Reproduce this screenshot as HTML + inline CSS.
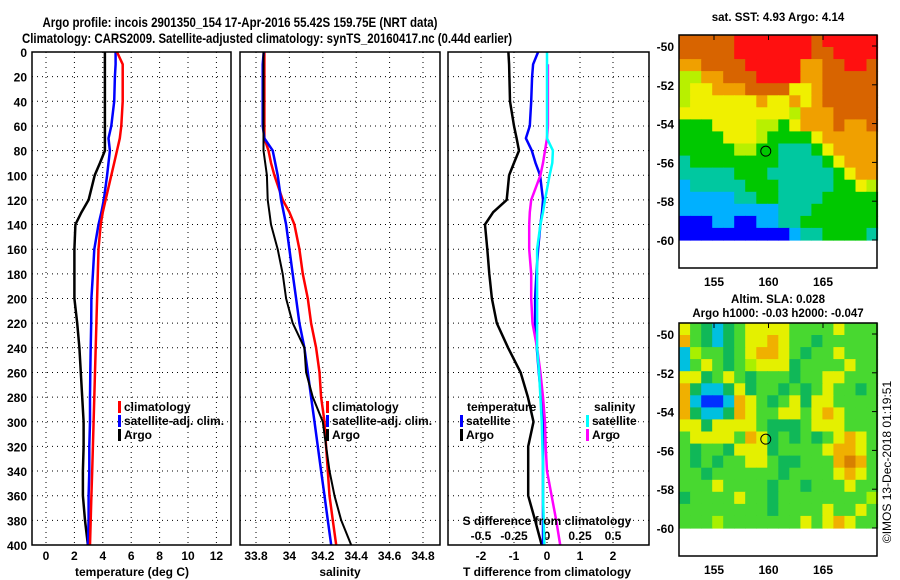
<!DOCTYPE html>
<html><head><meta charset="utf-8"><style>
body{margin:0;background:#fff}
svg{display:block;font-family:"Liberation Sans",sans-serif;font-weight:bold}
</style></head><body>
<svg id="c" width="900" height="580" viewBox="0 0 900 580" xmlns="http://www.w3.org/2000/svg">
<text x="240" y="27" font-size="14" text-anchor="middle" textLength="395" lengthAdjust="spacingAndGlyphs">Argo profile: incois 2901350_154 17-Apr-2016 55.42S 159.75E (NRT data)</text>
<text x="267" y="43" font-size="14" text-anchor="middle" textLength="490" lengthAdjust="spacingAndGlyphs">Climatology: CARS2009. Satellite-adjusted climatology: synTS_20160417.nc (0.44d earlier)</text>
<g id="g"></g>
<text transform="translate(891,462) rotate(-90)" font-size="12" font-weight="normal" text-anchor="middle">©IMOS 13-Dec-2018 01:19:51</text>
</svg>
<script>
// depths for all profiles
const depths=[0,10,20,40,60,70,80,90,100,120,130,140,160,180,200,220,240,260,280,300,320,340,360,380,400];
const tClim=[5.0,5.4,5.4,5.4,5.3,5.2,5.0,4.8,4.6,4.2,4.0,3.85,3.7,3.65,3.6,3.55,3.5,3.45,3.4,3.35,3.3,3.25,3.2,3.15,3.1];
const tSat=[4.9,4.9,4.85,4.8,4.6,4.4,4.5,4.4,4.3,4.07,3.9,3.7,3.4,3.3,3.2,3.18,3.15,3.12,3.1,3.1,3.05,3.05,3.0,3.0,2.95];
const tArgo=[4.15,4.15,4.15,4.15,4.15,4.15,4.15,3.8,3.43,3.0,2.5,2.07,2.0,2.0,2.0,2.2,2.35,2.45,2.55,2.65,2.65,2.6,2.6,2.75,2.95];
const sClim=[33.85,33.85,33.85,33.85,33.85,33.85,33.875,33.89,33.91,33.96,34.0,34.03,34.06,34.08,34.11,34.13,34.16,34.18,34.19,34.21,34.22,34.23,34.24,34.26,34.28];
const sSat=[33.846,33.84,33.84,33.84,33.84,33.85,33.9,33.915,33.93,33.95,33.965,33.98,34.0,34.02,34.04,34.06,34.09,34.11,34.13,34.15,34.17,34.19,34.21,34.23,34.25];
const sArgo=[33.845,33.845,33.845,33.845,33.845,33.845,33.845,33.855,33.865,33.87,33.88,33.89,33.93,33.96,33.98,34.02,34.09,34.1,34.14,34.2,34.22,34.24,34.27,34.31,34.37];
const dtSat=[-0.27,-0.42,-0.45,-0.48,-0.52,-0.64,-0.46,-0.35,-0.21,-0.12,-0.15,-0.2,-0.27,-0.32,-0.36,-0.36,-0.31,-0.25,-0.18,-0.12,-0.12,-0.12,-0.12,-0.12,-0.12];
const dtArgo=[-1.17,-1.15,-1.14,-1.12,-1.0,-0.92,-0.85,-1.0,-1.15,-1.22,-1.63,-1.88,-1.81,-1.75,-1.67,-1.52,-1.18,-0.8,-0.58,-0.41,-0.57,-0.57,-0.57,-0.36,-0.16];
const dsSat=[0.0,0.0,0.0,0.0,0.0,0.0,0.045,0.04,0.02,-0.015,-0.03,-0.05,-0.075,-0.075,-0.075,-0.075,-0.075,-0.06,-0.05,-0.04,-0.035,-0.03,-0.03,-0.025,-0.02];
const dsArgo=[null,0.007,0.007,0.007,0.007,0.0,-0.015,-0.03,-0.05,-0.12,-0.13,-0.135,-0.135,-0.12,-0.12,-0.11,-0.075,-0.05,-0.03,-0.015,-0.01,0.0,0.035,0.07,0.10];
const depthTicks=[0,20,40,60,80,100,120,140,160,180,200,220,240,260,280,300,320,340,360,380,400];
const tTicks=[0,2,4,6,8,10,12];
const sTicks=[33.8,34,34.2,34.4,34.6,34.8];
const sTickLabels=["33.8","34","34.2","34.4","34.6","34.8"];
const dtTicks=[-2,-1,0,1,2];
const dsTicks=[-0.5,-0.25,0,0.25,0.5];
const dsTickLabels=["-0.5","-0.25","0","0.25","0.5"];
const latTicks=[-50,-52,-54,-56,-58,-60];
const lonTicks=[155,160,165];
// map grids (coded colour classes)
const sstGrid=["OOOOORRRRRRRORRRRR","OOOOORRRRRRROORRRR","ooOOOORRRRRooOORRO","yyooOOORRRRooOOOOO","yYYoooOOOOYYoOOOOO","yYYYYYYoYYoYoOOOOO","YYYYYYYYYYyoooOOOO","GGGYYYYyyGYoooOooO","GGGGYYYyGGGGYooooo","GGGGGyyGGTTTGYoooo","TGGGGGGGGTTTTGYooo","TTTTTGGGTTTTTTGYoo","CTTTTTGGGTTTTTGGYy","CCCCCTTGGTTTTGGGGG","CCCCCCCCCTTTGGGGGG","BBBCCBBCCTTGGGGGGG","BBBBBBBBBBCTTGGGGT"];
const slaGrid=["YGgCgGYYYYGGGGYGGG","oGgCgGYYoYGGgGGGGG","CyGGgGYooYGgGGYGGG","CGYGgGyYYYgGGGGYGG","YYgGYGgGGGgGGYYGGG","ogCCgYgGGgGgGYGGgG","oCBBCoYGgGYgYYGGGG","ogCCgoYGGYYGYoYGGG","YYgYYYYGgggGYYYGGG","GYYYYGoYgGgGgGYoYG","GgGGgYYYgGGGGYooYG","GgGgGGYYGggGGGoOoG","GGgGGGGGGgGGGGYoYG","GGGYGGGGgGGgGGGYGG","gGGGGYGGgGGGGGGGGy","GGGGGGGGgGGGGYGGYG","GGGyGGGGGGGYGYoYGG"];
const sstColors={R:"#ff1010",O:"#d86400",o:"#f0a000",Y:"#f0f000",y:"#b8f000",G:"#00c800",T:"#00c8a0",C:"#00b0ff",B:"#0000ff"};
const slaColors={G:"#48d830",g:"#10b858",Y:"#e4f000",y:"#a8f000",o:"#f0b000",O:"#d88000",C:"#00c0e0",B:"#0030ff"};
const argoLon=159.75, argoLat=-55.42;

const NS="http://www.w3.org/2000/svg";
const G=document.getElementById('g');
function mk(tag,a,parent){const e=document.createElementNS(NS,tag);for(const k in a)e.setAttribute(k,a[k]);(parent||G).appendChild(e);return e;}
function txt(x,y,s,a){const e=mk('text',Object.assign({x:x,y:y,'font-size':12},a||{}));e.textContent=s;return e;}
const yD=d=>52+1.2325*d;
const xT=v=>46+14.2*v;
const xS=v=>256+167*(v-33.8);
const xDT=v=>547+33*v;
const xDS=v=>547+132*v;
const panels=[[32,231],[240,440],[448,649]];
panels.forEach((p,i)=>{
  depthTicks.forEach(d=>{const l=mk('line',{x1:p[0],x2:p[1],y1:yD(d),y2:yD(d),stroke:'#000','stroke-dasharray':'1 4'});
  
  });
});
tTicks.forEach(t=>{const l=mk('line',{x1:xT(t),x2:xT(t),y1:52,y2:545,stroke:'#000','stroke-dasharray':'1 4'});


const e=txt(xT(t),560,String(t),{'text-anchor':'middle'});

});
sTicks.forEach((t,i)=>{const l=mk('line',{x1:xS(t),x2:xS(t),y1:52,y2:545,stroke:'#000','stroke-dasharray':'1 4'});


const e=txt(xS(t),560,sTickLabels[i],{'text-anchor':'middle'});

});
dtTicks.forEach(t=>{const l=mk('line',{x1:xDT(t),x2:xDT(t),y1:52,y2:545,stroke:'#000','stroke-dasharray':'1 4'});


const e=txt(xDT(t),560,String(t),{'text-anchor':'middle'});

});
dsTicks.forEach((t,i)=>{const e=txt(xDS(t),540,dsTickLabels[i],{'text-anchor':'middle'});

});
depthTicks.forEach(d=>{const e=txt(27,yD(d)+5,String(d),{'text-anchor':'end'});

});
function line(xs,ys,xf,color,name,w){
  const pts=[];xs.forEach((v,i)=>{if(v!==null)pts.push(xf(v).toFixed(1)+','+yD(ys[i]).toFixed(1));});
  const e=mk('polyline',{points:pts.join(' '),fill:'none',stroke:color,'stroke-width':w||2.5,'stroke-linejoin':'round'});
  
  
}
line(tArgo,depths,xT,'#000','temp-argo-line');
line(tSat,depths,xT,'#0000ff','temp-satellite-line');
line(tClim,depths,xT,'#ff0000','temp-climatology-line');
line(sClim,depths,xS,'#ff0000','sal-climatology-line');
line(sSat,depths,xS,'#0000ff','sal-satellite-line');
line(sArgo,depths,xS,'#000','sal-argo-line',2);
line(dtArgo,depths,xDT,'#000','dt-argo-line');
line(dtSat,depths,xDT,'#0000ff','dt-satellite-line');
line(dsArgo,depths,xDS,'#ff00ff','ds-argo-line');
line(dsSat,depths,xDS,'#00ffff','ds-satellite-line');
panels.forEach(p=>{const r=mk('rect',{x:p[0],y:52,width:p[1]-p[0],height:493,fill:'none',stroke:'#000','stroke-width':1.5});

});
[[132,'temperature (deg C)'],[340,'salinity'],[547,'T difference from climatology']].forEach(a=>{const e=txt(a[0],576,a[1],{'text-anchor':'middle'});

});
const sdt=txt(547,525,'S difference from climatology',{'text-anchor':'middle'});


function leg(x,y,c,label){const b=mk('rect',{x:x,y:y-10,width:3,height:12,fill:c});


const t=txt(x+6,y,label);

}
leg(118,411,'#ff0000','climatology');leg(118,425,'#0000ff','satellite-adj. clim.');leg(118,439,'#000','Argo');
leg(326,411,'#ff0000','climatology');leg(326,425,'#0000ff','satellite-adj. clim.');leg(326,439,'#000','Argo');
const lt=txt(467,411,'temperature');
leg(460,425,'#0000ff','satellite');leg(460,439,'#000','Argo');
const ls=txt(594,411,'salinity');
leg(586,425,'#00ffff','satellite');leg(586,439,'#ff00ff','Argo');
const xLon=l=>714+10.9*(l-155);
function drawMap(top,grid,colors,name,title1,title2){
  const yL=l=>top+11+19.4*(-50-l);
  const lon0=151.8,lon1=170,lat0=-49.43,lat1=-60;
  const nr=grid.length,nc=grid[0].length;
  const dlon=(lon1-lon0)/nc,dlat=(lat0-lat1)/nr;
  grid.forEach((row,r)=>{for(let c=0;c<nc;c++){
    const x0=xLon(lon0+c*dlon),x1=xLon(lon0+(c+1)*dlon);
    const y0=yL(lat0-r*dlat),y1=yL(lat0-(r+1)*dlat);
    const e=mk('rect',{x:x0.toFixed(1),y:y0.toFixed(1),width:(x1-x0+0.6).toFixed(1),height:(y1-y0+0.6).toFixed(1),fill:colors[row[c]]});
    
    
  }});
  const fr=mk('rect',{x:679,y:top,width:198,height:233,fill:'none',stroke:'#000','stroke-width':1.5});
  
  
  latTicks.forEach(l=>{const t=txt(674,yL(l)+5,String(l),{'text-anchor':'end'});
  
  
  mk('line',{x1:872,x2:877,y1:yL(l),y2:yL(l),stroke:'#000'});});
  lonTicks.forEach(l=>{const t=txt(xLon(l),top+251,String(l),{'text-anchor':'middle'});
  
  
  mk('line',{x1:xLon(l),x2:xLon(l),y1:top,y2:top+5,stroke:'#000'});});
  const ci=mk('circle',{cx:xLon(argoLon),cy:yL(argoLat),r:5,fill:'none',stroke:'#000','stroke-width':1});
  
  
  const t1=txt(778,title2?top-20:top-14,title1,{'text-anchor':'middle','font-size':11.5});
  
  
  if(title2){const t2=txt(778,top-6,title2,{'text-anchor':'middle','font-size':11.5});
  
  }
}
drawMap(35,sstGrid,sstColors,'sst-map','sat. SST: 4.93 Argo: 4.14');
drawMap(323,slaGrid,slaColors,'sla-map','Altim. SLA: 0.028','Argo h1000: -0.03 h2000: -0.047');
</script>
</body></html>
